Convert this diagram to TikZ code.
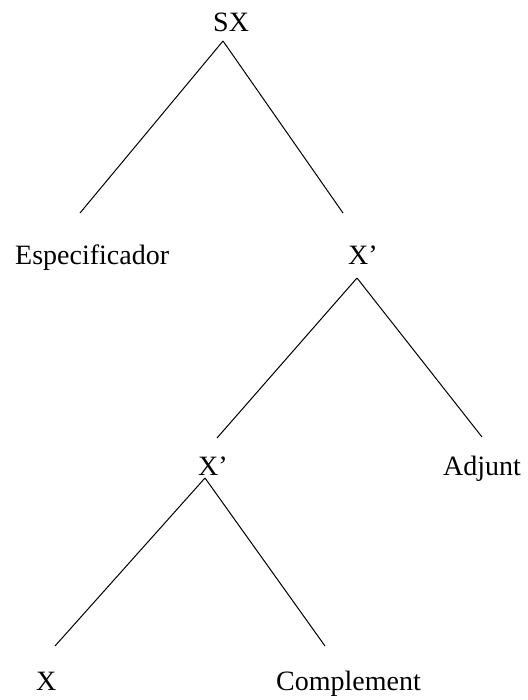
\documentclass[tikz,border=0pt]{standalone}
\usepackage{fontspec}
\setmainfont{Liberation Serif}
\usepackage{tikz}
\usetikzlibrary{positioning}
\tikzstyle{word} = [inner sep=0pt, anchor=base west, font=\fontsize{28}{34}\selectfont]
\tikzstyle{branch} = [draw, line width=1pt]

\begin{document}
\begin{tikzpicture}[x=1pt, y=1pt]
        \useasboundingbox (0,0) rectangle (527,-700);
        % Place nodes
        \node [word] (sx) at (213,-32) {SX};
        \node [word] (spec) at (15,-264) {Especificador};
        \node [word] (xbarup) at (348,-264) {X'};
        \node [word] (xbarlow) at (198,-475) {X'};
        \node [word] (adj) at (443,-475) {Adjunt};
        \node [word] (head) at (36,-690) {X};
        \node [word] (comp) at (276,-690) {Complement};
        % Draw edges
        \path [branch] ([shift={(10,-9)}]sx.base west) -- ([shift={(65,51)}]spec.base west);
        \path [branch] ([shift={(10,-9)}]sx.base west) -- ([shift={(-5,51)}]xbarup.base west);
        \path [branch] ([shift={(9,-14)}]xbarup.base west) -- ([shift={(19,37)}]xbarlow.base west);
        \path [branch] ([shift={(9,-14)}]xbarup.base west) -- ([shift={(39,38)}]adj.base west);
        \path [branch] ([shift={(7,-3)}]xbarlow.base west) -- ([shift={(19,44)}]head.base west);
        \path [branch] ([shift={(7,-3)}]xbarlow.base west) -- ([shift={(49,44)}]comp.base west);
      \end{tikzpicture}
\end{document}
